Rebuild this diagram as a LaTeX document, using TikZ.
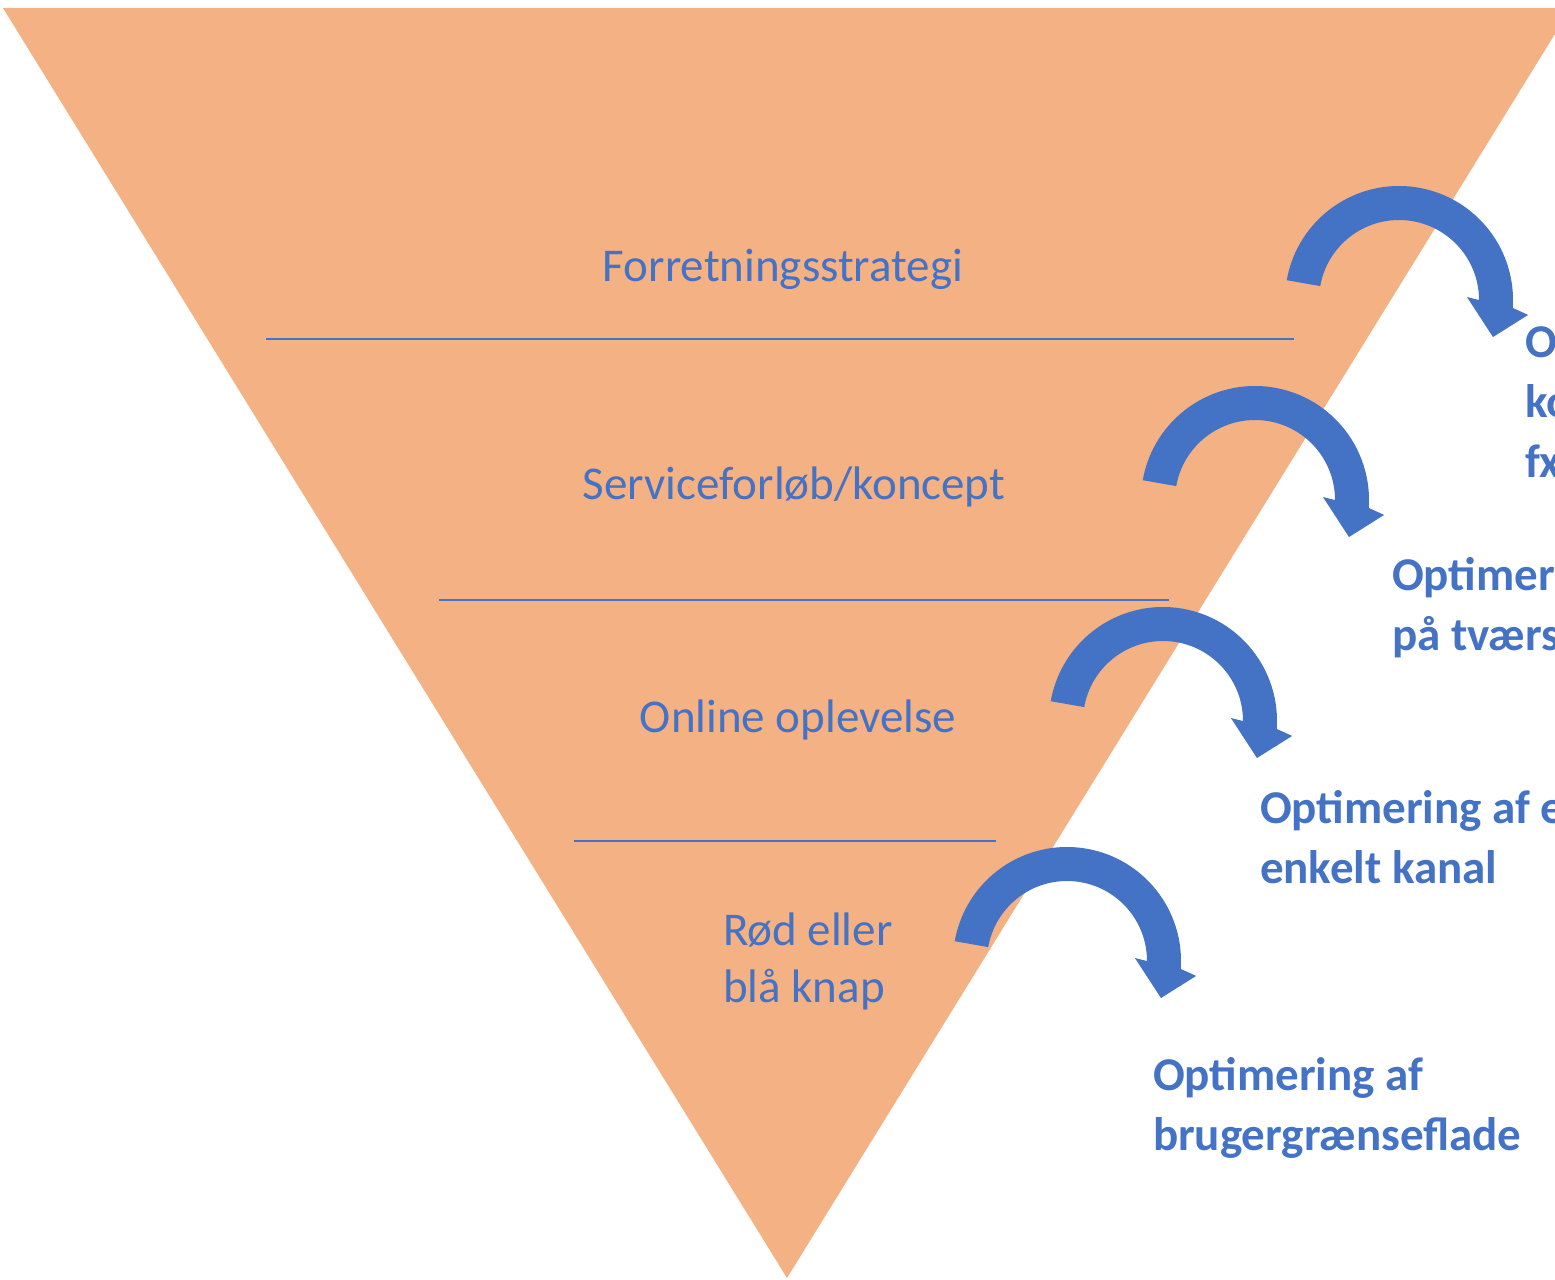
\documentclass[tikz,border=0pt]{standalone}
\usepackage{fontspec}
\setmainfont{Carlito}
\usepackage{tikz}

\definecolor{funnel}{HTML}{F4B183}
\definecolor{office}{HTML}{4472C4}

\begin{document}
\begin{tikzpicture}[x=0.02cm, y=-0.02cm, outer sep = 0pt]

\tikzstyle{level}=[text=office, inner sep=0pt, anchor=base, font=\fontsize{26.75}{31.9}\selectfont]
\tikzstyle{gain}=[text=office, inner sep=0pt, anchor=base west, align=left, font=\fontsize{26.75}{34.1}\selectfont\bfseries]
\tikzstyle{divider}=[office, line width=0.85pt]

\useasboundingbox (0,0) rectangle (1555,1280);
\clip (0,0) rectangle (1555,1280);

% the funnel
\fill[funnel] (3,8) -- (1571,8) -- (787,1278) -- cycle;

\draw[divider] (266,339) -- (1294,339); \draw[divider] (439,600) -- (1169,600); \draw[divider] (574,841) -- (996,841);

% multi-line nodes sit on the baseline of their last line
\node[level] (strat) at (783,282) {Forretningsstrategi}; \node[level] (service) at (794,499) {Serviceforløb/koncept};
\node[level] (online) at (798,732) {Online oplevelse}; \node[level, anchor=base west, align=left] (knap) at (723,1002) {Rød eller\\blå knap};

% bent arrows, one per level
\foreach \cx/\cy in {1399/300, 1255/500, 1163/721, 1067/961}
  \fill[office, shift={(\cx,\cy)}, yscale=-1] (170:114) arc[start angle=170, end angle=-4, radius=114] -- (-6.6:130) -- (-21.5:101) -- (2.5:68) -- (0:80) arc[start angle=0, end angle=170, radius=80] -- cycle;

\node[gain] (opt1) at (1525,477) {Optimering\\ko\\fx};
\node[gain] (opt2) at (1392,650) {Optimering\\på tværs};
\node[gain] (opt3) at (1260,883) {Optimering af en\\enkelt kanal};
\node[gain] (opt4) at (1153,1150) {Optimering af\\brugergrænseflade};

\end{tikzpicture}
\end{document}
